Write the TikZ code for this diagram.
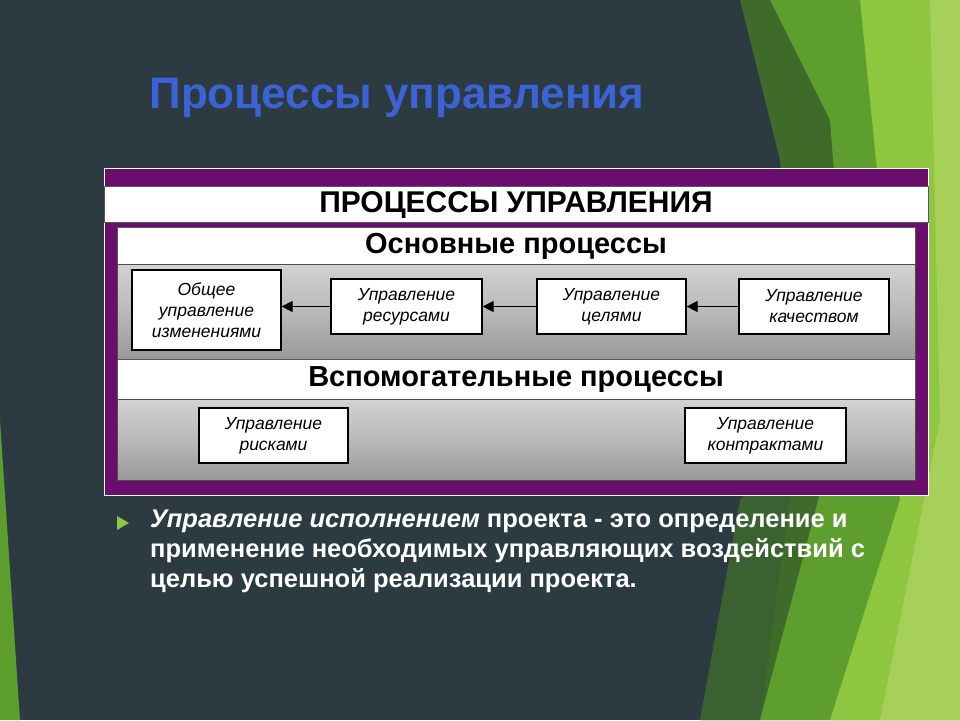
\documentclass[tikz,border=0pt]{standalone}
\usepackage{fontspec}
\setmainfont{Liberation Sans}
\usetikzlibrary{arrows.meta}
\definecolor{bgdark}{HTML}{2C3B42}
\definecolor{gA}{HTML}{8DC63F}
\definecolor{gB}{HTML}{5E9E2E}
\definecolor{gC}{HTML}{3E6B2A}
\definecolor{gD}{HTML}{A6D05A}
\definecolor{purp}{HTML}{6A0E6E}
\definecolor{titleblue}{HTML}{3B63D6}
\tikzset{
  pbox/.style={draw=black, line width=1.2pt, fill=white, align=center, font=\fontsize{17.5}{21}\selectfont\itshape, inner sep=0pt},
  strip/.style={fill=white, draw=gray!70!black, line width=0.6pt},
  band/.style={top color=gray!35, bottom color=gray!80, middle color=gray!55, draw=gray!60!black, line width=0.6pt},
  arr/.style={draw=black, line width=1pt, -{Triangle[length=11pt,width=11pt]}},
}
\begin{document}
\begin{tikzpicture}[x=1pt,y=-1pt]
\useasboundingbox (0,0) rectangle (960,720);
\fill[bgdark] (0,0) rectangle (960,720);
% green shapes
\fill[gC] (740,0) -- (960,0) -- (960,720) -- (700,720) -- (800,420) -- (780,160) -- cycle;
\fill[gB] (770,0) -- (960,0) -- (960,720) -- (760,720) -- (850,380) -- (830,120) -- cycle;
\fill[gA] (860,0) -- (960,0) -- (960,720) -- (830,720) -- (900,500) -- (880,200) -- cycle;
\fill[gD] (930,0) -- (960,0) -- (960,720) -- (880,720) -- (940,420) -- cycle;
\fill[gB] (0,420) -- (20,720) -- (0,720) -- cycle;
\fill[gC!80!bgdark] (740,500) -- (800,420) -- (760,720) -- (700,720) -- cycle;
% title
\node[font=\fontsize{44}{48}\selectfont\bfseries, text=titleblue] (title) at (397,98) {Процессы управления};
% diagram
\fill[purp] (104,168) rectangle (928,495);
\draw[white, line width=1pt] (104,168) rectangle (928,495);
\fill[strip] (104,186) rectangle (928,222);
\node[font=\fontsize{30}{32}\selectfont\bfseries] (h1) at (516,205) {ПРОЦЕССЫ УПРАВЛЕНИЯ};
\fill[strip] (117,227) rectangle (915,264);
\node[font=\fontsize{29}{32}\selectfont\bfseries] (h2) at (516,246) {Основные процессы};
\fill[band] (117,264) rectangle (915,359);
\fill[strip] (117,359) rectangle (915,399);
\node[font=\fontsize{29}{32}\selectfont\bfseries] (h3) at (516,380) {Вспомогательные процессы};
\fill[band] (117,399) rectangle (915,480);
\node[pbox, minimum width=149pt, minimum height=80pt] (b1) at (206.5,310) {Общее\\управление\\изменениями};
\node[pbox, minimum width=151pt, minimum height=55pt] (b2) at (406.5,306.5) {Управление\\ресурсами};
\node[pbox, minimum width=149pt, minimum height=55pt] (b3) at (611.5,306.5) {Управление\\целями};
\node[pbox, minimum width=150pt, minimum height=55pt] (b4) at (814,306.5) {Управление\\качеством};
\node[pbox, minimum width=149pt, minimum height=55pt] (b5) at (273.5,435.5) {Управление\\рисками};
\node[pbox, minimum width=161pt, minimum height=55pt] (b6) at (765.5,435.5) {Управление\\контрактами};
\draw[arr] (b4.west) -- (b3.east);
\draw[arr] (b3.west) -- (b2.east);
\draw[arr] (b2.west) -- (b2.west -| b1.east);
% bullet text
\fill[gA] (117,516) -- (129,523) -- (117,530) -- cycle;
\node[anchor=north west, align=left, text=white, font=\fontsize{25.5}{30}\selectfont\bfseries, inner sep=0pt] (body) at (150,510)
{\textit{Управление исполнением} проекта - это определение и\\применение необходимых управляющих воздействий с\\целью успешной реализации проекта.};
\end{tikzpicture}
\end{document}
